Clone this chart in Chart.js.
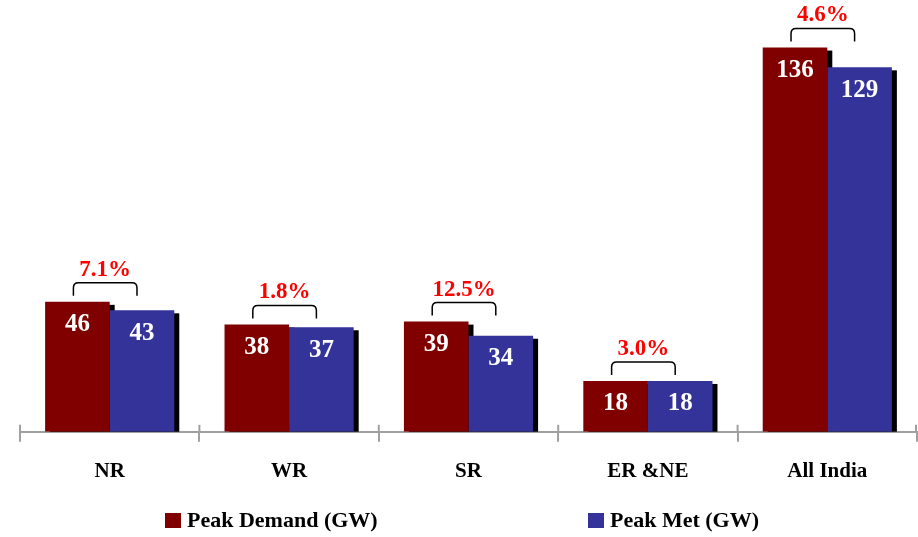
<!DOCTYPE html>
<html>
<head>
<meta charset="utf-8">
<script src="https://cdn.jsdelivr.net/npm/chart.js@4"></script>
<style>
    html, body { margin: 0; padding: 0; background: #fff; }
    #wrap { width: 918px; height: 537px; }
</style>
</head>
<body>
<div id="wrap"><canvas id="peakChart"></canvas></div>
<script>
const regions = ['NR', 'WR', 'SR', 'ER &NE', 'All India'];
const peakDemand = [46, 38, 39, 18, 136];
const peakMet = [43, 37, 34, 18, 129];
const shortfall = ['7.1%', '1.8%', '12.5%', '3.0%', '4.6%'];

const FONT = "'Liberation Serif', 'Times New Roman', serif";
const AXIS_GREY = '#a0a0a0';

// black drop shadow behind bars + labels on top
const barDecor = {
    id: 'barDecor',
    beforeDatasetsDraw(chart) {
        const ctx = chart.ctx;
        const area = chart.chartArea;
        ctx.save();
        ctx.beginPath();
        ctx.rect(area.left, area.top, area.right - area.left, area.bottom - area.top);
        ctx.clip();
        ctx.fillStyle = '#000';
        chart.data.datasets.forEach((ds, di) => {
            chart.getDatasetMeta(di).data.forEach(bar => {
                const w = bar.width;
                ctx.fillRect(bar.x - w / 2 + 5, bar.y + 3, w, bar.base - bar.y);
            });
        });
        ctx.restore();
    },
    afterDatasetsDraw(chart) {
        const ctx = chart.ctx;
        const demandBars = chart.getDatasetMeta(0).data;
        const metBars = chart.getDatasetMeta(1).data;

        // values inside the bars
        ctx.save();
        ctx.fillStyle = '#fff';
        ctx.font = 'bold 25px ' + FONT;
        ctx.textAlign = 'center';
        ctx.textBaseline = 'middle';
        chart.data.datasets.forEach((ds, di) => {
            chart.getDatasetMeta(di).data.forEach((bar, i) => {
                ctx.fillText(ds.data[i], bar.x, bar.y + 23);
            });
        });
        ctx.restore();

        // brackets and shortfall %
        ctx.save();
        demandBars.forEach((red, i) => {
            const blue = metBars[i];
            const top = Math.min(red.y, blue.y);
            const x1 = red.x - 4, x2 = blue.x - 5;
            const yb = top - 6, yt = top - 19, r = 5;
            ctx.strokeStyle = '#000';
            ctx.lineWidth = 1.5;
            ctx.beginPath();
            ctx.moveTo(x1, yb);
            ctx.lineTo(x1, yt + r);
            ctx.quadraticCurveTo(x1, yt, x1 + r, yt);
            ctx.lineTo(x2 - r, yt);
            ctx.quadraticCurveTo(x2, yt, x2, yt + r);
            ctx.lineTo(x2, yb);
            ctx.stroke();

            ctx.fillStyle = '#ff0000';
            ctx.font = 'bold 23px ' + FONT;
            ctx.textAlign = 'center';
            ctx.textBaseline = 'middle';
            ctx.fillText(shortfall[i], (x1 + x2) / 2, top - 32);
        });
        ctx.restore();
    },
    afterDraw(chart) {
        const ctx = chart.ctx;
        const xs = chart.scales.x;
        const area = chart.chartArea;
        const step = (xs.right - xs.left) / chart.data.labels.length;

        // tick marks also poke above the axis line
        ctx.save();
        ctx.strokeStyle = AXIS_GREY;
        ctx.lineWidth = 2;
        for (let i = 0; i <= chart.data.labels.length; i++) {
            const x = Math.min(xs.left + i * step, xs.right - 1);
            ctx.beginPath();
            ctx.moveTo(x, area.bottom - 7);
            ctx.lineTo(x, area.bottom);
            ctx.stroke();
        }
        ctx.restore();

        // legend
        ctx.save();
        ctx.font = 'bold 22px ' + FONT;
        ctx.textBaseline = 'middle';
        ctx.textAlign = 'left';
        const legendX = [165, 588];
        const legendY = 521;
        chart.data.datasets.forEach((ds, di) => {
            const x = legendX[di];
            ctx.fillStyle = ds.backgroundColor;
            ctx.fillRect(x, legendY - 8, 16, 15);
            ctx.fillStyle = '#000';
            ctx.fillText(ds.label, x + 22, legendY);
        });
        ctx.restore();
    }
};

const ctx = document.getElementById('peakChart').getContext('2d');
new Chart(ctx, {
    type: 'bar',
    data: {
        labels: regions,
        datasets: [
            {
                label: 'Peak Demand (GW)',
                data: peakDemand,
                backgroundColor: '#800000',
                barPercentage: 1,
                categoryPercentage: 0.72
            },
            {
                label: 'Peak Met (GW)',
                data: peakMet,
                backgroundColor: '#333399',
                barPercentage: 1,
                categoryPercentage: 0.72
            }
        ]
    },
    options: {
        responsive: true,
        maintainAspectRatio: false,
        animation: false,
        devicePixelRatio: 1,
        layout: {
            padding: { top: 8, left: 20, right: 1, bottom: 36 }
        },
        plugins: {
            legend: { display: false },
            tooltip: { enabled: false }
        },
        scales: {
            x: {
                grid: {
                    display: true,
                    drawOnChartArea: false,
                    drawTicks: true,
                    tickLength: 10,
                    color: AXIS_GREY,
                    lineWidth: 2
                },
                border: { display: true, color: AXIS_GREY, width: 2 },
                ticks: {
                    color: '#000',
                    padding: 17,
                    font: { family: FONT, size: 21, weight: 'bold' }
                }
            },
            y: {
                display: false,
                min: 0,
                max: 150
            }
        }
    },
    plugins: [barDecor]
});
</script>
</body>
</html>
